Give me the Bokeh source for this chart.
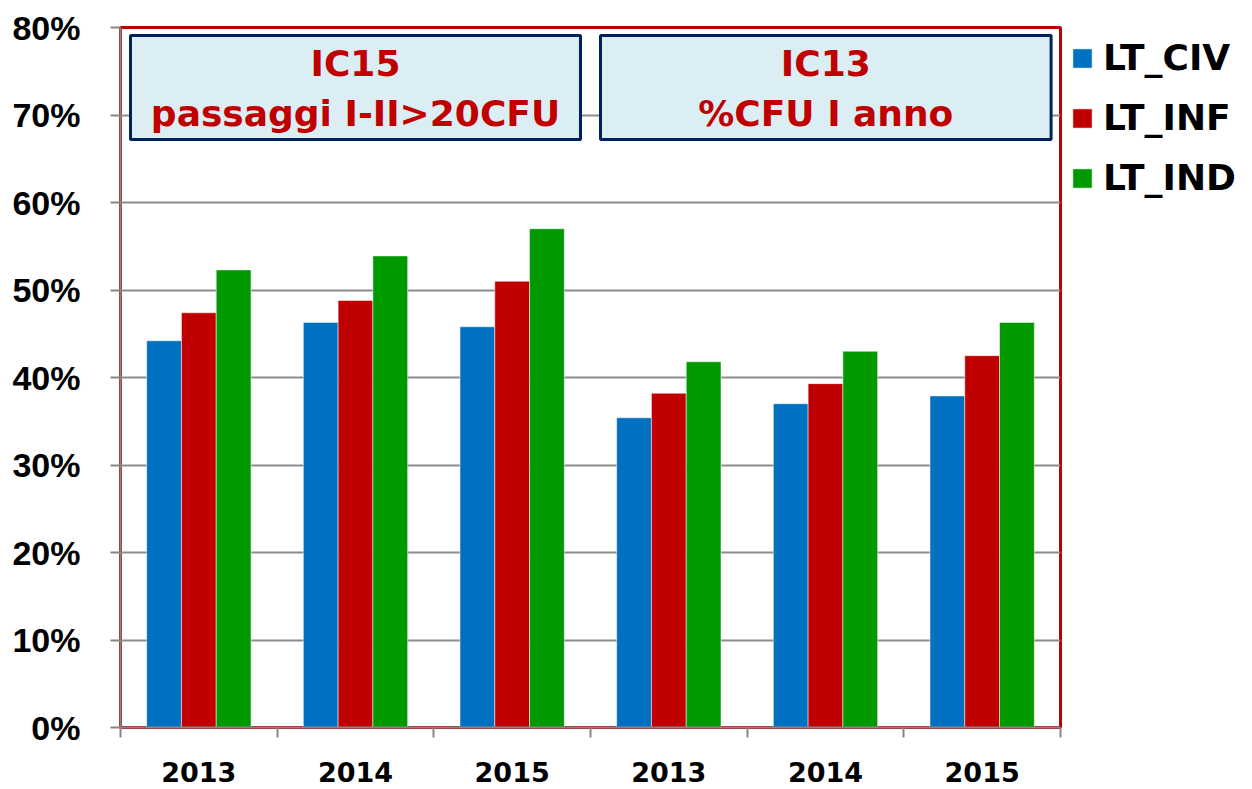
from bokeh.plotting import figure
from bokeh.models import (Range1d, FixedTicker, NumeralTickFormatter, BoxAnnotation,
                          Label, Legend, LegendItem, ColumnDataSource)
from bokeh.embed import file_html
from bokeh.resources import INLINE

# ---- data ----
year_labels = ["2013", "2014", "2015", "2013", "2014", "2015"]
lt_civ = [0.442, 0.463, 0.458, 0.354, 0.370, 0.379]
lt_inf = [0.474, 0.488, 0.510, 0.382, 0.393, 0.425]
lt_ind = [0.523, 0.539, 0.570, 0.418, 0.430, 0.463]
series_names = ["LT_CIV", "LT_INF", "LT_IND"]
series_colors = ["#0070C0", "#C00000", "#009900"]
y_tick_values = [0.0, 0.1, 0.2, 0.3, 0.4, 0.5, 0.6, 0.7, 0.8]
box_titles = [("IC15", "passaggi I-II>20CFU"), ("IC13", "%CFU I anno")]

FONT = "DejaVu Sans"
n = len(year_labels)
centers = [i + 0.5 for i in range(n)]

p = figure(frame_width=940, frame_height=700, output_backend="svg", toolbar_location=None,
           x_range=Range1d(0, n), y_range=Range1d(0, 0.8),
           min_border_left=120, min_border_top=27, min_border_bottom=60, min_border_right=4)
p.background_fill_color = "white"
p.border_fill_color = "white"
p.outline_line_color = "#C00000"
p.outline_line_width = 3

# bars
bw = 0.222
offsets = [-bw, 0.0, bw]
renderers = []
for vals, off, col in zip([lt_civ, lt_inf, lt_ind], offsets, series_colors):
    src = ColumnDataSource(dict(x=[c + off for c in centers], top=vals))
    r = p.vbar(x="x", top="top", bottom=0, width=bw, source=src, fill_color=col,
               line_color="white", line_alpha=0.5, line_width=1)
    renderers.append(r)

# y axis
p.yaxis.ticker = FixedTicker(ticks=y_tick_values, minor_ticks=[])
p.yaxis.formatter = NumeralTickFormatter(format="0%")
p.yaxis.major_label_text_font = "Liberation Sans"
p.yaxis.major_label_text_font_style = "bold"
p.yaxis.major_label_text_font_size = "34px"
p.yaxis.major_label_text_color = "black"
p.yaxis.major_tick_out = 10
p.yaxis.major_tick_in = 0
p.yaxis.major_tick_line_color = "#868686"
p.yaxis.major_tick_line_width = 2
p.yaxis.axis_line_color = "#868686"
p.yaxis.axis_line_width = 2
p.yaxis.major_label_standoff = 30

# x axis
p.xaxis.ticker = FixedTicker(ticks=centers, minor_ticks=list(range(n + 1)))
p.xaxis.major_label_overrides = {c: lab for c, lab in zip(centers, year_labels)}
p.xaxis.major_label_text_font = FONT
p.xaxis.major_label_text_font_style = "bold"
p.xaxis.major_label_text_font_size = "27px"
p.xaxis.major_label_text_color = "black"
p.xaxis.major_tick_line_color = None
p.xaxis.major_tick_out = 0
p.xaxis.major_tick_in = 0
p.xaxis.minor_tick_out = 10
p.xaxis.minor_tick_in = 0
p.xaxis.minor_tick_line_color = "#868686"
p.xaxis.minor_tick_line_width = 2
p.xaxis.axis_line_color = "#868686"
p.xaxis.axis_line_width = 2
p.xaxis.major_label_standoff = 24

# grid
p.xgrid.grid_line_color = None
p.ygrid.ticker = FixedTicker(ticks=y_tick_values)
p.ygrid.grid_line_color = "#8C8C8C"
p.ygrid.grid_line_width = 2

# annotation boxes
box_spans = [(0.064, 2.936), (3.064, 5.94)]
for (l, r), (t1, t2) in zip(box_spans, box_titles):
    p.add_layout(BoxAnnotation(left=l, right=r, bottom=0.672, top=0.791,
                               fill_color="#DAEEF3", fill_alpha=1.0,
                               line_color="#002060", line_width=3, line_alpha=1.0))
    cx = (l + r) / 2
    for txt, yy in [(t1, 0.759), (t2, 0.702)]:
        p.add_layout(Label(x=cx, y=yy, text=txt, text_align="center", text_baseline="middle",
                           text_font=FONT, text_font_style="bold", text_font_size="36px",
                           text_color="#C00000"))

# legend
items = [LegendItem(label=nm, renderers=[r]) for nm, r in zip(series_names, renderers)]
legend = Legend(items=items, location="top_left", margin=10, padding=0,
                glyph_width=24, glyph_height=24, label_height=36, spacing=19,
                label_standoff=9, label_text_font=FONT, label_text_font_style="bold",
                label_text_font_size="36px", label_text_color="black",
                border_line_color=None, background_fill_alpha=0)
p.add_layout(legend, "right")

open("out.html", "w").write(file_html(p, INLINE))
